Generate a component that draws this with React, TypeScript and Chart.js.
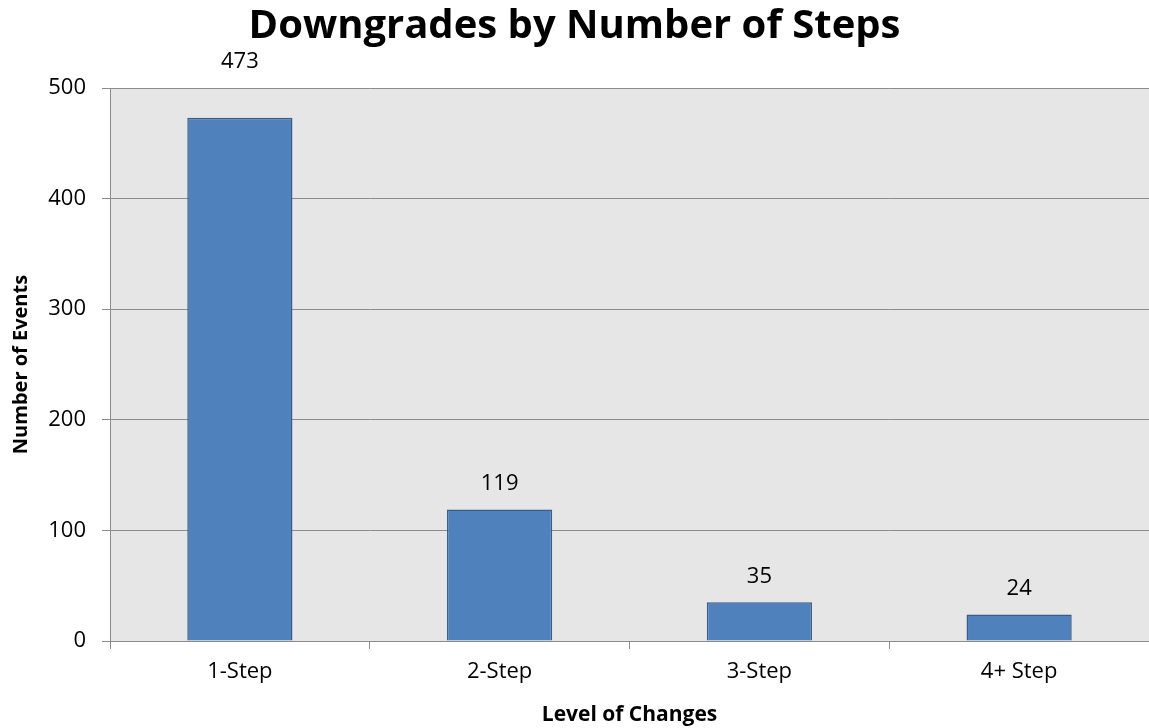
import React, { useEffect, useRef } from "react";
import { Chart, registerables } from "chart.js";

Chart.register(...registerables);

const categories = ["1-Step", "2-Step", "3-Step", "4+ Step"];
const events = [473, 119, 35, 24];
const yTicks = [0, 100, 200, 300, 400, 500];
const chartTitle = "Downgrades by Number of Steps";
const xTitle = "Level of Changes";
const yTitle = "Number of Events";

const FONT = "'Open Sans', 'Noto Sans', sans-serif";

export default function App() {
  const ref = useRef<HTMLCanvasElement | null>(null);
  useEffect(() => {
    if (!ref.current) return;
    const bgPlugin = {
      id: "plotBg",
      beforeDraw(chart: any) {
        const { ctx, chartArea } = chart;
        ctx.save();
        ctx.fillStyle = "#E6E6E6";
        ctx.fillRect(chartArea.left, chartArea.top, chartArea.right - chartArea.left, chartArea.bottom - chartArea.top);
        ctx.restore();
      },
    };
    const labelsPlugin = {
      id: "labelsAndTitle",
      afterDraw(chart: any) {
        const { ctx } = chart;
        ctx.save();
        ctx.fillStyle = "#000";
        ctx.textAlign = "center";
        ctx.textBaseline = "alphabetic";
        ctx.font = `bold 40px ${FONT}`;
        ctx.fillText(chartTitle, chart.width / 2, 38);
        ctx.font = `22px ${FONT}`;
        const meta = chart.getDatasetMeta(0);
        meta.data.forEach((bar: any, i: number) => {
          const lift = bar.y - chart.chartArea.top < 40 ? 50 : 19;
          ctx.fillText(String(events[i]), bar.x, bar.y - lift);
        });
        ctx.restore();
      },
    };
    const chart = new Chart(ref.current, {
      type: "bar",
      data: {
        labels: categories,
        datasets: [
          {
            data: events,
            backgroundColor: "#4F81BD",
            borderColor: "#385D8A",
            borderWidth: 1.5,
            barPercentage: 0.405,
            categoryPercentage: 1,
          },
        ],
      },
      options: {
        responsive: false,
        animation: false,
        layout: { padding: { top: 88, right: 0, left: 0, bottom: 0 } },
        plugins: { legend: { display: false }, tooltip: { enabled: false }, title: { display: false } },
        scales: {
          x: {
            afterFit(scale: any) {
              scale.height = 87;
            },
            grid: { offset: true, drawOnChartArea: false, drawTicks: true, tickLength: 8, color: "#8C8C8C" },
            border: { color: "#8C8C8C", width: 1 },
            ticks: { color: "#000", font: { family: FONT, size: 22 }, padding: 10 },
            title: { display: true, text: xTitle, color: "#000", font: { family: FONT, size: 21, weight: "bold" }, padding: { top: 0, bottom: 0 } },
          },
          y: {
            min: 0,
            max: 500,
            afterFit(scale: any) {
              scale.width = 110;
            },
            afterBuildTicks(scale: any) {
              scale.ticks = yTicks.map((v) => ({ value: v }));
            },
            grid: { color: "#8C8C8C", tickLength: 8, drawTicks: true },
            border: { color: "#8C8C8C", width: 1 },
            ticks: { color: "#000", font: { family: FONT, size: 22 }, padding: 16 },
            title: { display: true, text: yTitle, color: "#000", font: { family: FONT, size: 20, weight: "bold" }, padding: { top: 9, bottom: 0 } },
          },
        },
      },
      plugins: [bgPlugin, labelsPlugin],
    } as any);
    return () => chart.destroy();
  }, []);
  return (
    <div style={{ position: "absolute", left: 0, top: 0, width: 1149, height: 728, background: "#fff" }}>
      <canvas ref={ref} width={1149} height={728} />
    </div>
  );
}
